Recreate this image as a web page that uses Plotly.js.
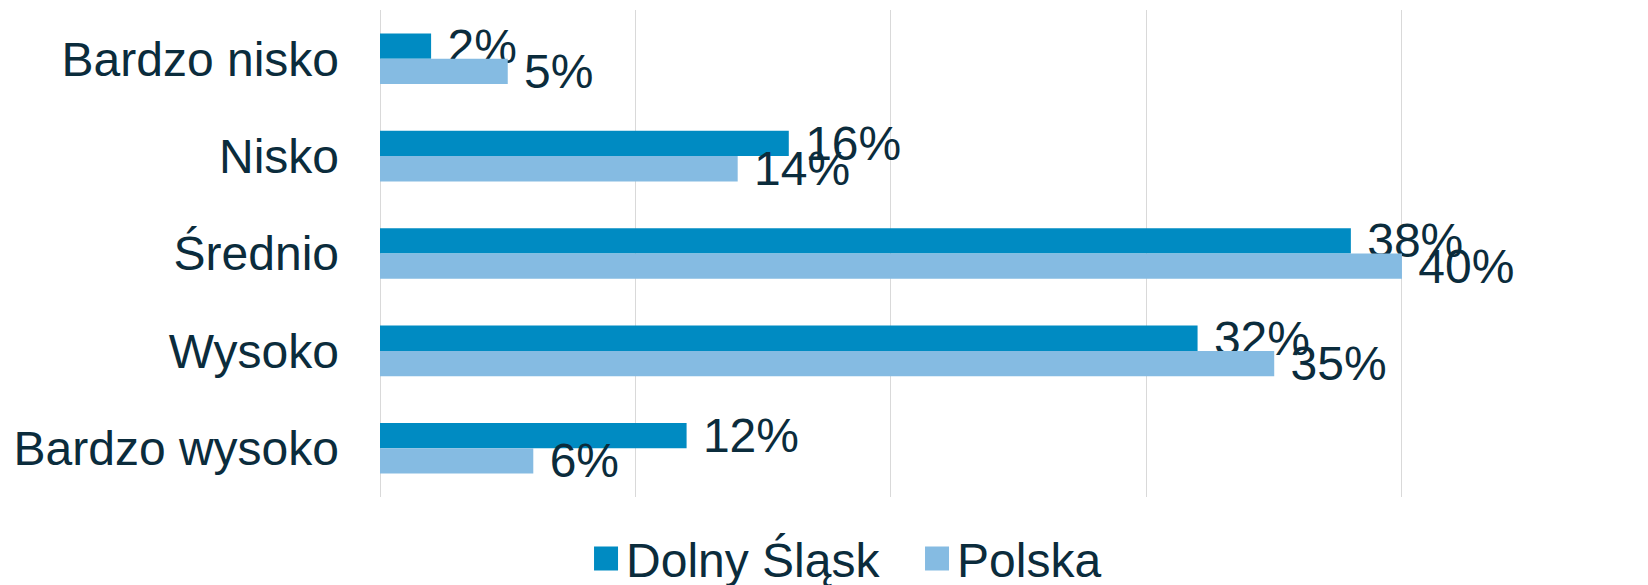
<!DOCTYPE html>
<html>
<head>
<meta charset="utf-8">
<script src="https://cdn.plot.ly/plotly-3.0.1.min.js"></script>
<style>
  html, body { margin: 0; padding: 0; background: #ffffff; }
  #chart { width: 1648px; height: 585px; }
</style>
</head>
<body>
<div id="chart"></div>
<script>
const categories = ["Bardzo nisko", "Nisko", "Średnio", "Wysoko", "Bardzo wysoko"];
const seriesNames = ["Dolny Śląsk", "Polska"];
const dolnySlaskValues = [2, 16, 38, 32, 12];
const polskaValues = [5, 14, 40, 35, 6];
const seriesColors = ["#008BC2", "#85BBE2"];

const textColor = "#0B2C3C";
const fontFamily = "'Liberation Sans', Arial, sans-serif";
const fontSize = 48;

function makeTrace(name, values, color) {
  return {
    type: "bar",
    orientation: "h",
    name: name,
    y: categories,
    x: values,
    marker: { color: color, line: { width: 0 } },
    texttemplate: "\u00a0%{x}%",
    textposition: "outside",
    constraintext: "none",
    cliponaxis: false,
    textfont: { family: fontFamily, size: fontSize, color: textColor },
    hoverinfo: "skip"
  };
}

const data = [
  makeTrace(seriesNames[0], dolnySlaskValues, seriesColors[0]),
  makeTrace(seriesNames[1], polskaValues, seriesColors[1])
];

const layout = {
  width: 1648,
  height: 585,
  paper_bgcolor: "#ffffff",
  plot_bgcolor: "#ffffff",
  font: { family: fontFamily, size: fontSize, color: textColor },
  margin: { l: 380, r: 0, t: 10, b: 88, pad: 0 },
  barmode: "group",
  bargap: 0.48,
  bargroupgap: 0,
  showlegend: true,
  legend: {
    orientation: "h",
    xref: "container",
    yref: "container",
    x: 0.3556,
    xanchor: "left",
    y: 0.045,
    yanchor: "middle",
    traceorder: "normal",
    entrywidth: 286,
    entrywidthmode: "pixels",
    font: { family: fontFamily, size: fontSize, color: textColor },
    bgcolor: "rgba(0,0,0,0)"
  },
  xaxis: {
    range: [0, 49.63],
    showticklabels: false,
    ticks: "",
    dtick: 10,
    showgrid: true,
    gridcolor: "#D9D9D9",
    gridwidth: 1,
    zeroline: true,
    zerolinecolor: "#D9D9D9",
    zerolinewidth: 1,
    showline: false,
    fixedrange: true
  },
  yaxis: {
    type: "category",
    categoryorder: "array",
    categoryarray: categories,
    autorange: "reversed",
    ticks: "",
    ticklabelstandoff: 40,
    showgrid: false,
    zeroline: false,
    showline: false,
    tickfont: { family: fontFamily, size: fontSize, color: textColor },
    fixedrange: true
  }
};

const gd = document.getElementById("chart");
Plotly.newPlot(gd, data, layout, { staticPlot: true, displayModeBar: false }).then(function () {
  enlargeLegendSymbols();
  gd.on("plotly_afterplot", enlargeLegendSymbols);
});

function enlargeLegendSymbols() {
  document.querySelectorAll("#chart .legend path.legendbar, #chart .legend .legendpoints path").forEach(function (p) {
    p.setAttribute("d", "M12,12H-12V-12H12Z");
  });
}
</script>
</body>
</html>
